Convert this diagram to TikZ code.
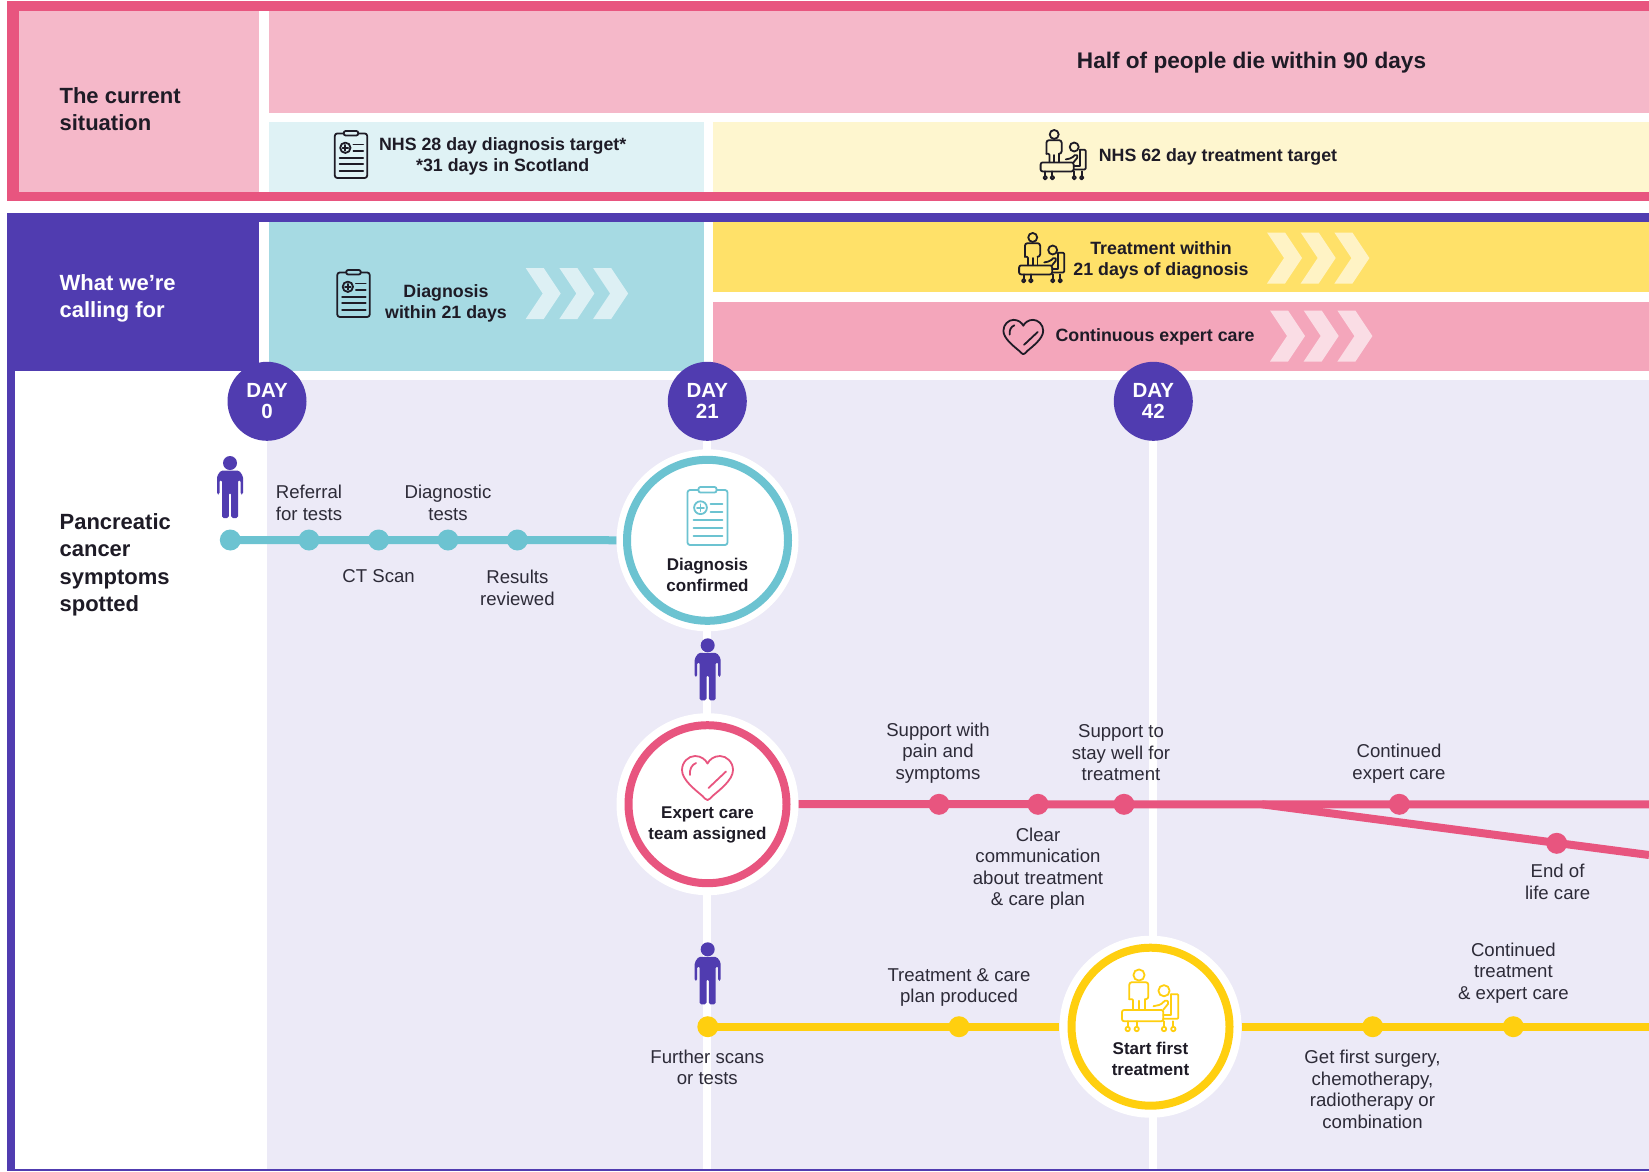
\documentclass[tikz,border=0pt]{standalone}
\usepackage{fontspec}
\setmainfont{Liberation Sans}
\definecolor{pinkline}{HTML}{E8557F}
\definecolor{palepink}{HTML}{F5B8C9}
\definecolor{paleblue}{HTML}{DFF2F5}
\definecolor{paleyellow}{HTML}{FEF6CF}
\definecolor{brandpurple}{HTML}{503CB0}
\definecolor{tealcell}{HTML}{A6DAE3}
\definecolor{yellowcell}{HTML}{FFE169}
\definecolor{pinkcell}{HTML}{F4A6BB}
\definecolor{lavender}{HTML}{ECEAF7}
\definecolor{tealline}{HTML}{6CC3D1}
\definecolor{yellowline}{HTML}{FFCF0F}
\definecolor{inkdark}{HTML}{1E1B26}
\definecolor{inklabel}{HTML}{2D2B38}
\tikzset{
  iconline/.style={line width=1.8pt,line cap=round,line join=round},
  headfont/.style={font=\bfseries\fontsize{22}{26.5}\selectfont,text=inkdark,align=left,anchor=west,inner sep=0pt,yshift=-1.2pt},
  bandfont/.style={font=\bfseries\fontsize{17.8}{21}\selectfont,text=inkdark,align=center,inner sep=0pt,yshift=-1.5pt},
  ringfont/.style={font=\bfseries\fontsize{17}{21}\selectfont,text=inkdark,align=center,inner sep=0pt,yshift=-1pt},
  labelfont/.style={font=\fontsize{18.6}{21.5}\selectfont,text=inklabel,align=center,inner sep=0pt,yshift=-1pt},
  daynode/.style={circle,fill=brandpurple,text=white,font=\bfseries\fontsize{20.5}{21}\selectfont,align=center,minimum size=79pt,inner sep=0pt},
  halo/.style={circle,fill=white,minimum size=182pt,inner sep=0pt},
  ring/.style={circle,draw=#1,line width=8pt,minimum size=158pt,inner sep=0pt},
  dot/.style={circle,fill=#1,minimum size=21pt,inner sep=0pt},
  track/.style={draw=#1,line width=8pt},
  gutter/.style={draw=white,line width=8pt},
  chevron/.pic={
    \foreach \dx in {0,33.7,67.4}{
      \fill[white,fill opacity=.62] (\dx,-25.5) -- (\dx+18,-25.5) -- (\dx+35,0) -- (\dx+18,25.5) -- (\dx,25.5) -- (\dx+17,0) -- cycle;
    }
  },
  person/.pic={
    \fill[brandpurple] (0,-24) circle (7);
    \fill[brandpurple,rounded corners=1.6pt] (-13,7.5) -- (-13,-11) -- (-9,-16.5) -- (9,-16.5) -- (13,-11) -- (13,7.5) -- (10.5,7.5) -- (10.5,-7) -- (8,-7) -- (8,31) -- (1.2,31) -- (1.2,6) -- (-1.2,6) -- (-1.2,31) -- (-8,31) -- (-8,-7) -- (-10.5,-7) -- (-10.5,7.5) -- cycle;
  },
  clipicon/.pic={
    \draw[iconline,rounded corners=2.5pt] (-9,-26) -- (-20,-26) -- (-20,29) -- (20,29) -- (20,-26) -- (9,-26);
    \draw[iconline,rounded corners=2pt] (-9,-29) rectangle (9,-23.5);
    \draw[iconline] (-7,-8.3) circle (6.4);
    \draw[iconline] (-10.5,-8.3) -- (-3.5,-8.3) (-7,-11.8) -- (-7,-4.8);
    \draw[iconline] (3,-12.3) -- (15,-12.3) (3,-4) -- (15,-4);
    \draw[iconline] (-14,4) -- (15,4) (-14,12) -- (15,12) (-14,20) -- (15,20);
  },
  heartsign/.pic={
    \draw[iconline] (0,22) .. controls (-1.5,22) and (-3,20) .. (-5,18) .. controls (-12,12) and (-25.5,2) .. (-25.5,-8) .. controls (-25.5,-16) and (-19,-22) .. (-12.5,-22) .. controls (-6.5,-22) and (-2,-18.5) .. (0,-14.5) .. controls (2,-18.5) and (6.5,-22) .. (12.5,-22) .. controls (19,-22) and (25.5,-16) .. (25.5,-8) .. controls (25.5,2) and (12,12) .. (5,18) .. controls (3,20) and (1.5,22) .. (0,22) -- cycle;
    \draw[iconline] (-17.5,-3) .. controls (-18,-9) and (-16,-13) .. (-11.5,-15);
    \draw[iconline] (1,10) -- (18.5,-6.5);
  },
  bedsign/.pic={
    \draw[iconline] (-11,-25.7) circle (5.6);
    \draw[iconline,rounded corners=2.5pt] (-20.7,-1.5) -- (-20.7,-18.5) -- (-1.7,-18.5) -- (-1.7,-1.5) -- (-5,-1.5);
    \draw[iconline,rounded corners=1pt] (-20.7,-1.5) -- (-17,-1.5) -- (-17,9);
    \draw[iconline] (-5,-1.5) -- (-5,9) (-11,0) -- (-11,9);
    \draw[iconline] (14,-10) circle (5.6);
    \draw[iconline,rounded corners=1.5pt] (3.5,5.5) -- (10.5,4) -- (16,-1) -- (19,2) -- (13.3,9);
    \draw[iconline,rounded corners=2pt] (-28,9.3) rectangle (13.3,20.5);
    \draw[iconline,rounded corners=1pt] (21,-6.5) -- (28.3,-6.5) -- (28.3,18) -- (13.3,18);
    \draw[iconline] (21,-6.5) -- (21,14) -- (13.3,14);
    \foreach \wx in {-22.3,-13.3,14,23.3}{
      \draw[iconline] (\wx,20.5) -- (\wx,26);
      \draw[iconline] (\wx,28.3) circle (2.2);
    }
  }
}
\begin{document}
\begin{tikzpicture}[x=1pt,y=-1pt]
\useasboundingbox (0,0) rectangle (1649,1171);
\fill[white] (0,0) rectangle (1649,1171);
% current situation band
\fill[pinkline] (7,1) rectangle (1649,201);
\fill[white] (19,10.7) rectangle (1649,192);
\fill[palepink] (19,10.7) rectangle (259,192);
\fill[palepink] (269,10.7) rectangle (1649,113);
\fill[paleblue] (269,121.7) rectangle (703.5,192);
\fill[paleyellow] (712.8,121.7) rectangle (1649,192);
% calling-for frame
\fill[brandpurple] (7,212.7) rectangle (1649,1171);
\fill[white] (15,371) rectangle (1649,1168.5);
\fill[white] (259,221.7) rectangle (1649,371);
\fill[tealcell] (269,221.7) rectangle (703.5,371);
\fill[yellowcell] (712.8,221.7) rectangle (1649,291.7);
\fill[pinkcell] (712.8,301.7) rectangle (1649,371);
\fill[lavender] (267,379.5) rectangle (1649,1168.5);
% chevrons
\pic at (525.7,293.5) {chevron};
\pic at (1267,258) {chevron};
\pic at (1270,336) {chevron};
% band texts
\node[headfont] (tcur) at (59.4,108) {The current\\situation};
\node[headfont,text=white] (twhat) at (59.4,297) {What we’re\\calling for};
\node[headfont,font=\bfseries\fontsize{22}{27.3}\selectfont] (tpan) at (59.4,563.7) {Pancreatic\\cancer\\symptoms\\spotted};
\node[bandfont,font=\bfseries\fontsize{22.6}{26}\selectfont] (thalf) at (1251.5,61) {Half of people die within 90 days};
\node[bandfont] (tnhs1) at (502.7,155) {NHS 28 day diagnosis target*\\*31 days in Scotland};
\node[bandfont] (tnhs2) at (1218,155) {NHS 62 day treatment target};
\node[bandfont] (tdiag) at (446,302) {Diagnosis\\within 21 days};
\node[bandfont] (ttreat) at (1161,258.8) {Treatment within\\21 days of diagnosis};
\node[bandfont] (tcont) at (1155,335) {Continuous expert care};
% band icons
\pic[color=inkdark,scale=.81] at (351,154.5) {clipicon};
\pic[color=inkdark,scale=.81] at (353.5,293.5) {clipicon};
\pic[color=inkdark,scale=.8] at (1063,155) {bedsign};
\pic[color=inkdark,scale=.8] at (1041.5,258) {bedsign};
\pic[color=inkdark,scale=.78] at (1023.3,337) {heartsign};
% day markers
\node[daynode,yshift=-.8pt] (d0) at (267,400.5) {DAY\\0};
\node[daynode,yshift=-.8pt] (d21) at (707.3,400.5) {DAY\\21};
\node[daynode,yshift=-.8pt] (d42) at (1153.3,400.5) {DAY\\42};
\coordinate (fb) at (0,1168.5);
\draw[gutter] (d21) -- (d21 |- fb);
\draw[gutter] (d42) -- (d42 |- fb);
% big circles
\node[halo] (dchalo) at (707.5,540.3) {};
\node[ring=tealline,minimum size=161pt] (dcring) at (dchalo) {};
\node[halo] (echalo) at (707.5,804.2) {};
\node[ring=pinkline] (ecring) at (echalo) {};
\node[halo] (sfhalo) at (1150.5,1026.7) {};
\node[ring=yellowline] (sfring) at (sfhalo) {};
\pic[color=tealline] at (707.5,516) {clipicon};
\pic[color=pinkline] at (707.5,778) {heartsign};
\pic[color=yellowline] at (1150,1000.7) {bedsign};
\node[ringfont] (tdc) at (707.5,574) {Diagnosis\\confirmed};
\node[ringfont] (tec) at (707.5,823.8) {Expert care\\team assigned};
\node[ringfont] (tsf) at (1150.5,1058) {Start first\\treatment};
% teal track
\node[dot=tealline] (t0) at (230.3,540) {};
\node[dot=tealline] (t1) at (309,540) {};
\node[dot=tealline] (t2) at (378.6,540) {};
\node[dot=tealline] (t3) at (448,540) {};
\node[dot=tealline] (t4) at (517.4,540) {};
\draw[track=tealline] (t0.center) -- (dchalo);
% pink track
\coordinate (pe) at (1649,804.3);
\coordinate (pb) at (1262,804.3);
\coordinate (pf) at (1649,855);
\node[dot=pinkline] (p1) at (939,804.3) {};
\node[dot=pinkline] (p2) at (1038,804.3) {};
\node[dot=pinkline] (p3) at (1124,804.3) {};
\node[dot=pinkline] (p4) at (1399.3,804.3) {};
\node[dot=pinkline] (p5) at (1556.7,843.3) {};
\draw[track=pinkline] (echalo) -- (pe);
\draw[track=pinkline] (pb) -- (pf);
% yellow track
\coordinate (ye) at (1649,1026.7);
\node[dot=yellowline] (y0) at (707.8,1026.7) {};
\node[dot=yellowline] (y1) at (959,1026.7) {};
\node[dot=yellowline] (y2) at (1372.7,1026.7) {};
\node[dot=yellowline] (y3) at (1513.3,1026.7) {};
\draw[track=yellowline] (y0.center) -- (sfhalo);
\draw[track=yellowline] (sfhalo) -- (ye);
% people
\pic at (230,487) {person};
\pic at (707.7,669.3) {person};
\pic at (707.7,973.3) {person};
% track labels
\node[labelfont] (l1) at (309,501.6) {Referral\\for tests};
\node[labelfont] (l2) at (448,501.6) {Diagnostic\\tests};
\node[labelfont] (l3) at (378.6,575.5) {CT Scan};
\node[labelfont] (l4) at (517.4,587) {Results\\reviewed};
\node[labelfont] (l5) at (938,752) {Support with\\pain and\\symptoms};
\node[labelfont] (l6) at (1121,752) {Support to\\stay well for\\treatment};
\node[labelfont] (l7) at (1399,762.5) {Continued\\expert care};
\node[labelfont] (l8) at (1038,867.7) {Clear\\communication\\about treatment\\\& care plan};
\node[labelfont] (l9) at (1557.6,881) {End of\\life care};
\node[labelfont] (l10) at (959,986.5) {Treatment \& care\\plan produced};
\node[labelfont] (l11) at (707.3,1066.4) {Further scans\\or tests};
\node[labelfont] (l12) at (1372.5,1088.5) {Get first surgery,\\chemotherapy,\\radiotherapy or\\combination};
\node[labelfont] (l13) at (1513.4,971.8) {Continued\\treatment\\\& expert care};
\end{tikzpicture}
\end{document}
